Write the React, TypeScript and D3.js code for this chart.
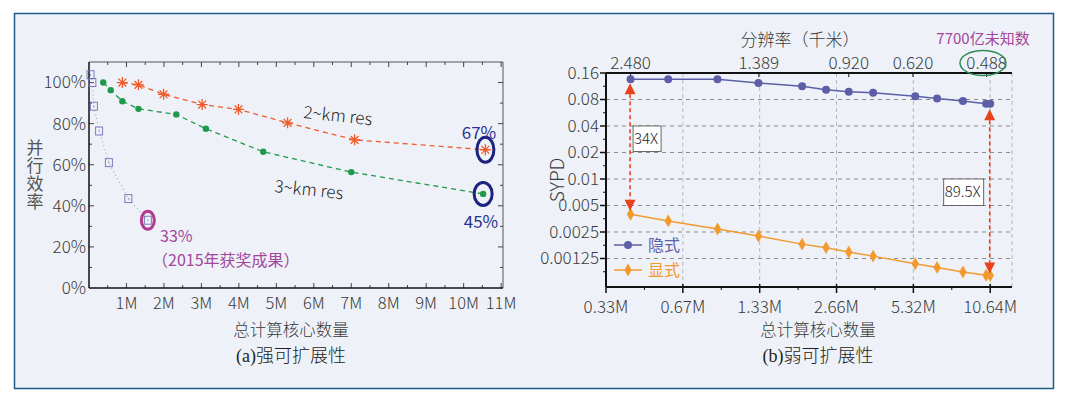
import React from "react";
import * as d3 from "d3";

const W = 1065;
const H = 397;

// ---- (a) strong scaling ----
const cores2km = [0.89, 1.32, 1.99, 3.02, 3.99, 5.3, 7.09, 10.58];
const eff2km = [100, 98.9, 94.3, 89.3, 86.9, 80.4, 72.1, 67.3];
const cores3km = [0.38, 0.58, 0.89, 1.32, 2.33, 3.12, 4.65, 7.0, 10.52];
const eff3km = [100, 96.3, 90.9, 87.2, 84.5, 77.5, 66.3, 56.4, 45.8];
const cores2015 = [0.04, 0.09, 0.13, 0.27, 0.53, 1.05, 1.57];
const eff2015 = [103.8, 100, 88.5, 76.4, 61, 43.5, 33];
const aXTicks = [1, 2, 3, 4, 5, 6, 7, 8, 9, 10, 11];
const aYTicks = [0, 20, 40, 60, 80, 100];

// ---- (b) weak scaling ----
const coresB = [0.415, 0.583, 0.909, 1.315, 1.95, 2.42, 2.97, 3.7, 5.41, 6.59, 8.32, 10.25, 10.64];
const sypdImplicit = [0.1355, 0.1355, 0.1355, 0.123, 0.113, 0.1035, 0.098, 0.0957, 0.087, 0.082, 0.077, 0.0718, 0.0715];
const sypdExplicit = [0.00398, 0.00334, 0.0027, 0.00225, 0.00182, 0.00166, 0.00148, 0.00133, 0.00109, 0.00099, 0.000877, 0.000805, 0.0008];
const bXTicks = [0.3325, 0.665, 1.33, 2.66, 5.32, 10.64];
const bXLabels = ["0.33M", "0.67M", "1.33M", "2.66M", "5.32M", "10.64M"];
const bYTicks = [0.16, 0.08, 0.04, 0.02, 0.01, 0.005, 0.0025, 0.00125];
const bYLabels = ["0.16", "0.08", "0.04", "0.02", "0.01", "0.005", "0.0025", "0.00125"];
const resCores = [0.415, 1.32, 2.97, 5.3, 10.3];
const resLabels = ["2.480", "1.389", "0.920", "0.620", "0.488"];

const FONT = "'Noto Sans CJK SC', 'Noto Sans', sans-serif";
const TXT = "#3a3a3a";
const BG = "#eef2f8";

const ORANGE_A = "#f05a28";
const GREEN_A = "#1f9a4c";
const SQ = "#7070b8";
const BLUE_B = "#5c5ea8";
const ORANGE_B = "#f39a2e";
const RED = "#e8421c";

// 8-armed asterisk marker
const star = (cx: number, cy: number, r: number) => {
  let d = "";
  for (let i = 0; i < 4; i++) {
    const a = (i * Math.PI) / 4;
    const dx = Math.cos(a) * r, dy = Math.sin(a) * r;
    d += `M${cx - dx},${cy - dy}L${cx + dx},${cy + dy}`;
  }
  return d;
};

const ChartA = () => {
  const x = d3.scaleLinear().domain([0, 11.05]).range([89, 503]);
  const y = d3.scaleLinear().domain([0, 110]).range([288, 62]);
  const [x0, x1] = x.range();
  const [y0, y1] = y.range();
  const mk = (xs: number[], ys: number[]) =>
    d3.line<number>().x((d) => x(d)).y((_, i) => y(ys[i]))(xs) || "";
  const minorX = d3.range(0.5, 11.01, 0.5);
  const minorY = d3.range(10, 110, 10);
  return (
    <g fontFamily={FONT}>
      {/* frame */}
      <line x1={x0} x2={x1} y1={y1} y2={y1} stroke="#555" strokeWidth={1} />
      <line x1={x1} x2={x1} y1={y1} y2={y0} stroke="#555" strokeWidth={1} />
      {minorX.map((v) => {
        const major = Number.isInteger(v);
        const len = major ? 5 : 3;
        return (
          <g key={v}>
            <line x1={x(v)} x2={x(v)} y1={y0} y2={y0 - len} stroke="#444" />
            <line x1={x(v)} x2={x(v)} y1={y1} y2={y1 + len} stroke="#444" />
          </g>
        );
      })}
      {minorY.map((v) => {
        const len = v % 20 === 0 ? 5 : 3;
        return (
          <g key={v}>
            <line x1={x0} x2={x0 + len} y1={y(v)} y2={y(v)} stroke="#444" />
            <line x1={x1} x2={x1 - len} y1={y(v)} y2={y(v)} stroke="#444" />
          </g>
        );
      })}
      <line x1={x0} x2={x1} y1={y0} y2={y0} stroke="#111" strokeWidth={1.5} />
      <line x1={x0} x2={x0} y1={y1} y2={y0} stroke="#111" strokeWidth={1.5} />
      {aYTicks.map((v) => (
        <text key={v} x={86} y={y(v)} dy="0.35em" textAnchor="end" fontSize={17} fill={TXT} fontWeight={300}>
          {v}%
        </text>
      ))}
      {aXTicks.map((v) => (
        <text key={v} x={x(v)} y={309} textAnchor="middle" fontSize={16.5} fill={TXT} fontWeight={300}>
          {v}M
        </text>
      ))}
      <text
        x={35}
        y={139}
        fontSize={17}
        fill="#555"
        style={{ writingMode: "vertical-rl", letterSpacing: "1px" }}
      >
        并行效率
      </text>

      {/* 2015 series */}
      <path d={mk(cores2015, eff2015)} fill="none" stroke="#a9a9c9" strokeWidth={1.2} strokeDasharray="1,3" />
      {cores2015.map((c, i) => (
        <g key={i}>
          <rect x={x(c) - 3.5} y={y(eff2015[i]) - 4} width={7} height={8} fill="none" stroke={SQ} strokeWidth={0.9} />
          <circle cx={x(c)} cy={y(eff2015[i])} r={0.6} fill={SQ} />
        </g>
      ))}

      {/* 3km */}
      <path d={mk(cores3km, eff3km)} fill="none" stroke={GREEN_A} strokeWidth={1.3} strokeDasharray="5,4" />
      {cores3km.map((c, i) => (
        <circle key={i} cx={x(c)} cy={y(eff3km[i])} r={3.2} fill={GREEN_A} />
      ))}

      {/* 2km */}
      <path d={mk(cores2km, eff2km)} fill="none" stroke={ORANGE_A} strokeWidth={1.3} strokeDasharray="5,4" />
      {cores2km.map((c, i) => (
        <path key={i} d={star(x(c), y(eff2km[i]), 5.5)} stroke={ORANGE_A} strokeWidth={1.3} fill="none" />
      ))}

      <text x={303} y={118} fontSize={17} fill="#222" fontWeight={300} transform="rotate(6 303 118)">
        2~km res
      </text>
      <text x={274} y={192} fontSize={17} fill="#222" fontWeight={300} transform="rotate(6 274 192)">
        3~km res
      </text>

      {/* highlights */}
      <ellipse cx={x(cores2km[7])} cy={y(eff2km[7])} rx={8.5} ry={12.5} fill="none" stroke="#1e237e" strokeWidth={3} />
      <ellipse cx={x(cores3km[8])} cy={y(eff3km[8])} rx={9} ry={11.5} fill="none" stroke="#1e237e" strokeWidth={3} />
      <text x={479} y={139} textAnchor="middle" fontSize={17} fill="#2b3190">67%</text>
      <text x={481} y={228} textAnchor="middle" fontSize={17} fill="#2b3190">45%</text>
      <ellipse cx={x(cores2015[6])} cy={y(eff2015[6])} rx={6.5} ry={9} fill="none" stroke="#b23a8e" strokeWidth={3} />
      <text x={160} y={242} fontSize={16} fill="#a2479c">33%</text>
      <text x={152} y={266} fontSize={16} fill="#a2479c">（2015年获奖成果）</text>
    </g>
  );
};

const ChartB = () => {
  const x = d3.scaleLog().base(2).domain([0.3325, 12.95]).range([606, 1012]);
  const y = d3.scaleLog().base(2).domain([0.000593, 0.16]).range([287, 73]);
  const [x0, x1] = x.range();
  const [y0, y1] = y.range();
  const mk = (ys: number[]) =>
    d3.line<number>().x((d) => x(d)).y((_, i) => y(ys[i]))(coresB) || "";

  const minorY = bYTicks.map((v) => v / Math.SQRT2);
  const minorX = bXTicks.map((v) => v * Math.SQRT2).filter((v) => x(v) < x1);

  const arrow = (cx: number, yTop: number, yBot: number) => {
    const hw = 5.5, hh = 11;
    return (
      <g>
        <line x1={cx} x2={cx} y1={yTop + hh} y2={yBot - hh} stroke={RED} strokeWidth={1.6} strokeDasharray="4,3" />
        <path d={`M${cx},${yTop}L${cx - hw},${yTop + hh}L${cx + hw},${yTop + hh}Z`} fill={RED} />
        <path d={`M${cx},${yBot}L${cx - hw},${yBot - hh}L${cx + hw},${yBot - hh}Z`} fill={RED} />
      </g>
    );
  };
  const xa = x(coresB[0]) - 0.5;
  const xb = x(coresB[12]) - 0.5;
  const diamond = d3.symbol().type(d3.symbolDiamond).size(48)() || "";

  return (
    <g fontFamily={FONT}>
      {/* grid */}
      {bYTicks.slice(1).map((v) => (
        <line key={v} x1={x0} x2={x1} y1={y(v)} y2={y(v)} stroke="#8a8a8a" strokeWidth={1} strokeDasharray="4,4" />
      ))}
      {bXTicks.slice(1).map((v) => (
        <line key={v} x1={x(v)} x2={x(v)} y1={y1} y2={y0} stroke="#a8a8a8" strokeWidth={0.8} strokeDasharray="4,3" />
      ))}
      <line x1={x1} x2={x1} y1={y1} y2={y0} stroke="#a8a8a8" strokeWidth={0.8} strokeDasharray="4,3" />

      {/* axes */}
      <line x1={x0} x2={x1} y1={y1} y2={y1} stroke="#111" strokeWidth={2} />
      <line x1={x0} x2={x1} y1={y0} y2={y0} stroke="#111" strokeWidth={2} />
      <line x1={x0} x2={x0} y1={y1} y2={y0} stroke="#111" strokeWidth={2} />
      {bYTicks.map((v) => (
        <line key={v} x1={x0 - 6} x2={x0} y1={y(v)} y2={y(v)} stroke="#111" strokeWidth={1.5} />
      ))}
      {minorY.map((v) => (
        <line key={v} x1={x0 - 3} x2={x0} y1={y(v)} y2={y(v)} stroke="#111" strokeWidth={1} />
      ))}
      {bXTicks.map((v) => (
        <line key={v} x1={x(v)} x2={x(v)} y1={y0 - 3} y2={y0 + 6} stroke="#111" strokeWidth={1.5} />
      ))}
      {minorX.map((v) => (
        <line key={v} x1={x(v)} x2={x(v)} y1={y0} y2={y0 + 3} stroke="#111" strokeWidth={1} />
      ))}
      {resCores.map((v) => (
        <line key={v} x1={x(v)} x2={x(v)} y1={y1} y2={y1 + 4} stroke="#111" strokeWidth={1} />
      ))}

      {bYTicks.map((v, i) => (
        <text key={v} x={599} y={y(v)} dy="0.35em" textAnchor="end" fontSize={17} fill={TXT} fontWeight={300}>
          {bYLabels[i]}
        </text>
      ))}
      {bXTicks.map((v, i) => (
        <text key={v} x={x(v)} y={313} textAnchor="middle" fontSize={17} fill={TXT} fontWeight={300}>
          {bXLabels[i]}
        </text>
      ))}
      {resCores.map((v, i) => (
        <text key={v} x={x(v)} y={69} textAnchor="middle" fontSize={17} fill={TXT} fontWeight={300}>
          {resLabels[i]}
        </text>
      ))}
      <text x={800} y={46} textAnchor="middle" fontSize={17} fill={TXT} fontWeight={300}>分辨率（千米）</text>
      <text x={983} y={44} textAnchor="middle" fontSize={15} fill="#a2479c">7700亿未知数</text>
      <ellipse cx={983} cy={63} rx={23} ry={12.5} fill="none" stroke="#2e8b57" strokeWidth={1.5} />
      <text x={564} y={180} textAnchor="middle" fontSize={19} fill={TXT} fontWeight={300} transform="rotate(-90 564 180)">
        SYPD
      </text>

      {/* series */}
      <path d={mk(sypdImplicit)} fill="none" stroke={BLUE_B} strokeWidth={1.5} />
      {coresB.map((c, i) => (
        <circle key={i} cx={x(c)} cy={y(sypdImplicit[i])} r={4} fill={BLUE_B} />
      ))}
      <path d={mk(sypdExplicit)} fill="none" stroke={ORANGE_B} strokeWidth={1.5} />
      {coresB.map((c, i) => (
        <path key={i} d={diamond} transform={`translate(${x(c)},${y(sypdExplicit[i])})`} fill={ORANGE_B} />
      ))}

      {/* ratio arrows */}
      {arrow(xa, y(sypdImplicit[0]) + 4, y(sypdExplicit[0]) - 3.5)}
      {arrow(xb, y(sypdImplicit[12]) + 5.5, y(sypdExplicit[12]) - 2)}
      <rect x={xa + 3} y={y(0.04)} width={28} height={y(0.0205) - y(0.04)} fill="#fff" stroke="#444" strokeWidth={0.8} />
      <text x={xa + 4} y={(y(0.04) + y(0.0205)) / 2} dy="0.35em" fontSize={15} fill="#222" fontWeight={300}>34X</text>
      <rect x={xb - 46} y={y(0.01)} width={40} height={y(0.005) - y(0.01)} fill="#fff" stroke="#444" strokeWidth={0.8} />
      <text x={xb - 45} y={(y(0.01) + y(0.005)) / 2} dy="0.35em" fontSize={15} fill="#222" fontWeight={300}>89.5X</text>

      {/* legend */}
      <line x1={614} x2={642} y1={245} y2={245} stroke={BLUE_B} strokeWidth={1.5} />
      <circle cx={628} cy={245} r={4} fill={BLUE_B} />
      <text x={648} y={245} dy="0.35em" fontSize={16} fill={BLUE_B}>隐式</text>
      <line x1={614} x2={642} y1={270} y2={270} stroke={ORANGE_B} strokeWidth={1.5} />
      <path d={diamond} transform="translate(628,270)" fill={ORANGE_B} />
      <text x={648} y={270} dy="0.35em" fontSize={16} fill={ORANGE_B}>显式</text>
    </g>
  );
};

const SERIF = "'Liberation Serif', 'DejaVu Serif', serif";

export default function App() {
  return (
    <svg width={W} height={H} style={{ display: "block", position: "absolute", left: 0, top: 0 }}>
      <rect x={0} y={0} width={W} height={H} fill="#fff" />
      <rect x={14.5} y={13.5} width={1039} height={375} fill={BG} stroke="#1d5a86" strokeWidth={1.5} />
      <ChartA />
      <ChartB />
      <g fontFamily={FONT} fill={TXT}>
        <text x={291} y={336} textAnchor="middle" fontSize={16.5} fontWeight={300}>总计算核心数量</text>
        <text x={818} y={336} textAnchor="middle" fontSize={16.5} fontWeight={300}>总计算核心数量</text>
      </g>
      <g fill="#222">
        <text x={291} y={362} textAnchor="middle" fontSize={18}>
          <tspan fontFamily={SERIF}>(a)</tspan>
          <tspan fontFamily={FONT} fontWeight={300}>强可扩展性</tspan>
        </text>
        <text x={818} y={362} textAnchor="middle" fontSize={18}>
          <tspan fontFamily={SERIF}>(b)</tspan>
          <tspan fontFamily={FONT} fontWeight={300}>弱可扩展性</tspan>
        </text>
      </g>
    </svg>
  );
}
